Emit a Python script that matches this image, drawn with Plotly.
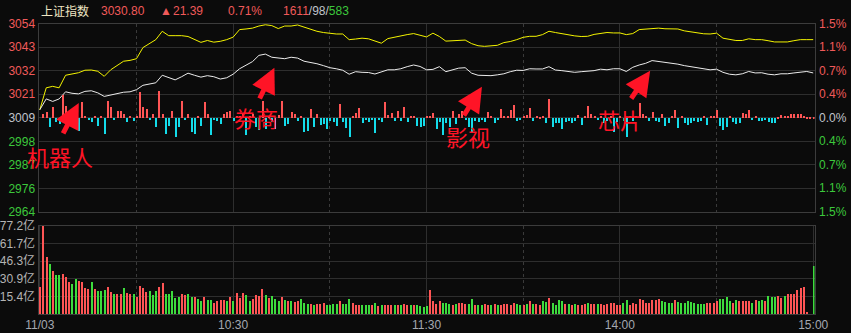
import plotly.graph_objects as go

# ---------------- data ----------------
index_name = "上证指数"
prev_close = 3009.41
half_range = 45.0
last_price = 3030.80
change = 21.39
change_pct = 0.71
advancers, unchanged, decliners = 1611, 98, 583

session_labels = ["11/03", "10:30", "11:30", "14:00", "15:00"]
session_label_minutes = [0, 60, 120, 180, 240]
half_hour_minutes = [30, 90, 150, 210]

# index price (white), one reading every 2 minutes from 9:30 to 15:00
price_line = [
    3013.2, 3018.4, 3017.2, 3018.4, 3021.8, 3021.1, 3020.8, 3022.0, 3022.3, 3021.3,
    3019.6, 3020.3, 3021.1, 3021.6, 3021.8, 3022.8, 3024.9, 3025.6, 3026.1, 3029.7,
    3028.5, 3027.5, 3029.0, 3030.7, 3029.7, 3028.8, 3029.5, 3029.0, 3027.9, 3028.5,
    3030.2, 3032.8, 3034.5, 3036.2, 3039.2, 3039.8, 3038.3, 3038.0, 3037.6, 3038.3,
    3037.9, 3036.4, 3035.9, 3035.2, 3034.3, 3033.3, 3032.8, 3032.1, 3030.2, 3031.4,
    3031.1, 3031.0, 3030.3, 3031.4, 3032.3, 3032.3, 3032.8, 3033.8, 3034.6, 3033.9,
    3032.3, 3032.5, 3033.8, 3031.4, 3032.3, 3033.1, 3033.3, 3030.7, 3029.7, 3029.5,
    3029.5, 3029.9, 3030.4, 3031.4, 3032.1, 3032.0, 3032.8, 3032.7, 3032.7, 3033.8,
    3032.2, 3031.9, 3031.4, 3031.1, 3031.4, 3031.7, 3031.9, 3032.6, 3032.3, 3032.8,
    3032.8, 3031.5, 3033.5, 3034.6, 3035.4, 3036.7, 3036.3, 3035.9, 3035.7, 3035.0,
    3034.3, 3033.8, 3033.3, 3032.9, 3032.3, 3032.6, 3031.1, 3030.2, 3029.9, 3030.4,
    3031.5, 3030.8, 3030.9, 3030.2, 3029.9, 3030.4, 3030.4, 3030.8, 3031.1, 3031.5,
    3030.8,
]

# unweighted average (yellow), same sampling
avg_line = [
    3013.2, 3023.7, 3024.4, 3023.7, 3029.7, 3030.4, 3030.9, 3032.1, 3032.2, 3031.6,
    3029.2, 3032.3, 3034.3, 3036.4, 3036.8, 3037.6, 3042.9, 3044.6, 3046.7, 3050.7,
    3048.6, 3048.6, 3048.6, 3048.2, 3046.7, 3045.4, 3046.3, 3045.5, 3045.9, 3046.7,
    3047.9, 3051.5, 3051.8, 3052.2, 3053.2, 3053.8, 3053.4, 3052.0, 3053.2, 3053.2,
    3053.7, 3052.7, 3051.9, 3050.7, 3050.1, 3049.6, 3049.4, 3049.4, 3046.7, 3047.0,
    3047.4, 3047.1, 3046.0, 3045.0, 3047.2, 3047.9, 3048.6, 3049.1, 3049.6, 3048.9,
    3048.0, 3049.8, 3048.2, 3046.0, 3046.2, 3046.5, 3046.5, 3044.8, 3043.8, 3043.5,
    3043.6, 3044.0, 3045.3, 3045.8, 3046.7, 3047.8, 3048.3, 3048.3, 3049.1, 3050.7,
    3050.1, 3049.5, 3049.0, 3048.5, 3048.2, 3048.3, 3049.2, 3049.6, 3050.1, 3049.9,
    3049.9, 3049.1, 3049.6, 3051.5, 3051.8, 3051.9, 3052.2, 3051.9, 3052.0, 3051.8,
    3050.9, 3050.4, 3049.9, 3049.5, 3049.4, 3049.8, 3047.4, 3046.7, 3046.3, 3046.3,
    3047.1, 3046.7, 3046.7, 3046.2, 3045.6, 3045.6, 3045.6, 3046.2, 3046.7, 3046.7,
    3046.7,
]

# buy/sell strength bars (red up / cyan down), one per minute
strength = [
    0, 4, 6, -9, 11, -4, -6, 23, 12, 2,
    -4, 4, -12.5, 16, 2, -2, -4, 2, -8, 2,
    -15.5, 17.5, 11, -2, 7.5, 7, 4, -4, 2, -2.5,
    2, 26, 11, 9, -2, 4, -9, 27.5, 4, -15.5,
    -7.5, 7.5, -19, -9, 17.5, -2, 4, -14, -15.5, 2,
    -7.5, 16, 4, -17, -2, -3, -5.5, 4, 6, 7,
    -3, 2, 2.5, 4, -17, 2, 4, -9, -12, 17.5,
    -10.5, 2.5, -4, -10.5, 3, 17.5, -7.5, -6, 6, 4,
    -2.5, 2.5, -13.5, -12.5, 9, -9, 4, -7, -6, -11,
    -2.5, -3.5, -8, 14.5, -3.5, -10, -19, 2, 5.5, 10,
    -4.5, -1.5, -3.5, -2, -15, -2, -3.5, 16, 3.5, 5,
    -2.5, 7, -2.5, 11, -3.5, 2, 2, -8, -9, -8,
    2, 2, 5, -11, -3.5, -17, -5, -9, 7, -6,
    4.5, 7, -2, -8.5, -15, -2.5, -3.5, -2, -3.5, 6,
    2, -4.5, -1.5, 9, 2, 2, 8, 13, -2.5, -2,
    2, 3.5, 10, -2.5, 2.5, 1.5, 2, -4.5, 19, -9,
    -5, -5, -10.5, -3.5, -2.5, -4.5, -3, 3, -7, 2,
    12, 4.5, 2, -1.5, 2, -5, -3, 2, -13.5, -4,
    2, -3, -18.5, 2, -3, 2, 15, 4, 2, -3,
    6.5, -3, -4, 4, -7.5, -5, 2, 8, -9.5, 2,
    -5, -6.5, -5, -2.5, -3.5, -2.5, 2, -7, 2, 2,
    8, -8, -12, -8.5, 2.5, -4, -6, -4.5, 5, 4.5,
    8, -2, 2, -2.5, -3, -2, -3.5, -4.5, -5, 1.5,
    3, 2, 2, 4.5, 4.5, 4.5, 4.5, 2, 1.5, 1.5,
    1,
]

# turnover per minute (亿)
volume = [
    23.7, 77.17, 49.7, 44.2, 37.4, 33.9, 33.9, 35.4, 32.5, 28.1,
    26.6, 31.0, 28.7, 28.1, 22.8, 21.6, 28.1, 21.6, 19.9, 20.5,
    20.8, 23.4, 19.3, 17.8, 17.5, 17.5, 22.8, 18.1, 17.5, 17.5,
    14.9, 24.3, 22.8, 19.3, 19.9, 17.0, 19.9, 23.7, 27.5, 17.8,
    17.8, 19.9, 14.0, 14.9, 17.8, 16.4, 17.8, 14.6, 15.2, 12.9,
    11.1, 14.9, 12.0, 12.0, 9.9, 11.1, 12.0, 12.6, 11.1, 14.9,
    11.1, 18.7, 14.0, 18.7, 17.0, 11.1, 12.9, 16.4, 15.8, 21.6,
    17.0, 14.0, 15.5, 12.9, 11.1, 14.9, 12.0, 11.1, 11.1, 10.5,
    11.1, 13.5, 9.9, 9.1, 9.1, 8.2, 9.1, 9.1, 9.9, 7.6,
    7.6, 9.1, 9.1, 11.1, 9.1, 9.1, 12.9, 9.9, 8.2, 8.2,
    8.2, 7.6, 7.6, 7.6, 9.4, 7.0, 7.6, 8.2, 7.6, 7.6,
    7.6, 7.6, 7.6, 9.1, 8.2, 8.2, 7.6, 7.6, 7.0, 6.1,
    7.0, 20.8, 11.1, 9.1, 11.1, 9.9, 9.9, 9.1, 8.2, 9.1,
    9.9, 9.9, 9.1, 9.1, 12.9, 8.2, 7.6, 7.6, 9.1, 8.2,
    7.6, 9.1, 8.2, 8.2, 9.1, 9.1, 8.2, 9.9, 9.1, 7.6,
    8.2, 9.1, 11.1, 9.1, 9.1, 8.2, 11.1, 10.5, 14.0, 9.9,
    7.6, 12.0, 11.1, 9.1, 9.1, 8.2, 9.1, 8.2, 8.2, 9.1,
    9.9, 9.1, 9.1, 9.1, 9.1, 8.2, 9.1, 9.9, 9.9, 8.2,
    8.2, 9.9, 12.0, 8.2, 9.9, 9.1, 12.9, 12.0, 9.9, 9.9,
    12.0, 12.0, 12.9, 11.1, 10.5, 9.9, 9.9, 12.0, 10.5, 9.9,
    9.9, 11.7, 10.5, 9.9, 9.1, 9.1, 9.1, 9.9, 9.9, 9.9,
    11.1, 12.9, 12.9, 14.9, 11.1, 9.9, 12.0, 11.1, 11.1, 11.1,
    11.1, 9.9, 12.0, 11.1, 12.0, 11.1, 15.8, 14.9, 14.9, 15.8,
    14.0, 15.8, 17.8, 17.8, 17.8, 20.8, 22.8, 23.7, 1.2, 0,
    42.1,
]

# minute direction: r = up, g = down
vol_dir = (
    "rrrgrggrrr" "ggrrrrgrgg" "grrgrrgrrg" "rrrrgggrrg" "ggggrrggrg"
    "grggrrrrgr" "grrrggrrrr" "grgggrgrgr" "rgggrgrrrg" "gggrgggrrr"
    "gggrgrgrrr" "grgrrgrggg" "grrrrgggrg" "rrrggrggrr" "grgrrrrrgg"
    "rgrgrrggrg" "gggrgrgrrr" "grrgrrrrrr" "rggrrrrrrr" "rrrggggrgg"
    "gggggggrrr" "rggggrgrrr" "rgrggrgggr" "rgrrrrrrrr" "g"
)

tags = ["机器人", "券商", "影视", "芯片"]
tag_minute = [6.3, 67.0, 132.9, 179.9]
tag_price = [2991.1, 3009.8, 3000.7, 3008.8]
arrow_tip_minute = [12.1, 72.8, 137.2, 189.4]
arrow_tip_price = [3016.4, 3033.3, 3024.2, 3031.9]
arrow_tail_minute = [7.0, 68.0, 131.3, 183.2]
arrow_tail_price = [3001.2, 3017.9, 3009.8, 3017.9]

# ---------------- style ----------------
W, H = 851, 333
BG = "#0b0b0b"
GRID = "#2e2e2e"
FRAME = "#3c3c3c"
RED = "#ff5555"
GREEN = "#3ddc3d"
CYAN = "#14dcea"
LBL_RED = "#f05a5a"
LBL_GREEN = "#3cc83c"
LBL_GRAY = "#c0c4cc"
TAG_RED = "#ff1426"
FONT = "Liberation Sans, Arial, Noto Sans CJK SC, sans-serif"

X0, X1 = 38.5 / W, 814.5 / W
MAIN_DOM = [1 - 212 / H, 1 - 23.5 / H]
VOL_DOM = [1 - 314 / H, 1 - 226 / H]
main_px = 212 - 23.5

line_minutes = [2 * i for i in range(len(price_line))]
bar_minutes = list(range(len(volume)))

price_ticks = [prev_close + k * half_range / 4 for k in range(-4, 5)]


def lbl_color(k):
    return LBL_RED if k > 0 else (LBL_GREEN if k < 0 else LBL_GRAY)


price_ticktext = [
    f"<span style='color:{lbl_color(k)}'>{prev_close + k * half_range / 4:.0f}</span>"
    for k in range(-4, 5)
]

vol_max = max(volume)
vol_ticks = [vol_max * k / 5 for k in range(1, 6)]
vol_ticktext = [f"{v:.1f}亿" for v in vol_ticks]

fig = go.Figure()

fig.add_trace(go.Bar(
    x=bar_minutes, y=strength, xaxis="x", yaxis="y3",
    marker=dict(color=[RED if s > 0 else CYAN for s in strength], line=dict(width=0)),
    width=0.34, hoverinfo="skip", showlegend=False,
))
fig.add_trace(go.Scatter(
    x=line_minutes, y=avg_line, xaxis="x", yaxis="y", mode="lines",
    line=dict(color="#f4f400", width=1), hoverinfo="skip", showlegend=False,
))
fig.add_trace(go.Scatter(
    x=line_minutes, y=price_line, xaxis="x", yaxis="y", mode="lines",
    line=dict(color="#ececec", width=1), hoverinfo="skip", showlegend=False,
))
fig.add_trace(go.Bar(
    x=bar_minutes, y=volume, xaxis="x2", yaxis="y2",
    marker=dict(color=[RED if d == "r" else GREEN for d in vol_dir], line=dict(width=0)),
    width=0.42, hoverinfo="skip", showlegend=False,
))

xrange = [-0.4, 240.4]
common_x = dict(
    range=xrange, domain=[X0, X1], showline=True, mirror=True, linecolor=FRAME, linewidth=1,
    zeroline=False, ticks="", showgrid=True, gridcolor=GRID, gridwidth=1, automargin=False,
    minor=dict(tickvals=half_hour_minutes, showgrid=True, gridcolor="#3a3a3a",
               griddash="dot", gridwidth=1, ticks=""),
)

fig.update_layout(
    width=W, height=H, margin=dict(l=0, r=0, t=0, b=0, pad=0), autosize=False,
    paper_bgcolor=BG, plot_bgcolor=BG, barmode="overlay", bargap=0,
    font=dict(family=FONT, size=12, color=LBL_GRAY),
    xaxis=dict(**common_x, anchor="y", tickvals=[60, 120, 180], showticklabels=False),
    yaxis=dict(domain=MAIN_DOM, range=[prev_close - half_range, prev_close + half_range],
               tickvals=price_ticks, ticktext=price_ticktext, showgrid=True, gridcolor=GRID,
               showline=True, mirror=True, linecolor=FRAME, zeroline=False, ticks="",
               tickfont=dict(size=12, family=FONT), anchor="x", automargin=False,
               ticklabelstandoff=0),
    yaxis3=dict(overlaying="y", range=[-main_px / 2, main_px / 2], visible=False,
                automargin=False),
    xaxis2=dict(**common_x, anchor="y2", matches="x", tickvals=session_label_minutes,
                ticktext=session_labels, tickfont=dict(size=12, color="#a4a8b0", family=FONT)),
    yaxis2=dict(domain=VOL_DOM, range=[0, vol_max], tickvals=vol_ticks, ticktext=vol_ticktext,
                showgrid=True, gridcolor=GRID, showline=True, mirror=True, linecolor=FRAME,
                zeroline=False, ticks="", anchor="x2", automargin=False, ticklabelstandoff=0,
                tickfont=dict(size=12, color="#b4b4b4", family=FONT)),
)

annotations = []
# right-hand percentage labels
for k in range(-4, 5):
    pct = abs(k * half_range / 4 / prev_close * 100)
    annotations.append(dict(
        xref="paper", yref="y", x=817 / W, y=prev_close + k * half_range / 4,
        text=f"{pct:.1f}%", showarrow=False, xanchor="left", yanchor="middle",
        font=dict(size=12, color=lbl_color(k), family=FONT),
    ))

# header
hy = 1 - 11 / H
header = [
    (39, index_name, "#f0e6c4"),
    (99, f"{last_price:.2f}", LBL_RED),
    (158, "▲", LBL_RED),
    (171, f"{change:.2f}", LBL_RED),
    (226, f"{change_pct:.2f}%", LBL_RED),
    (281, f"<span style='color:{LBL_RED}'>{advancers}</span>/"
          f"<span style='color:{LBL_GRAY}'>{unchanged}</span>/"
          f"<span style='color:{LBL_GREEN}'>{decliners}</span>", LBL_GRAY),
]
for hx, txt, col in header:
    annotations.append(dict(
        xref="paper", yref="paper", x=hx / W, y=hy, text=txt, showarrow=False,
        xanchor="left", yanchor="middle", font=dict(size=12, color=col, family=FONT),
    ))

# red arrows and tags
for i, tag in enumerate(tags):
    annotations.append(dict(
        xref="x", yref="y", axref="x", ayref="y",
        x=arrow_tip_minute[i], y=arrow_tip_price[i],
        ax=arrow_tail_minute[i], ay=arrow_tail_price[i],
        text="", showarrow=True, arrowhead=2, arrowsize=1.0, arrowwidth=5,
        arrowcolor=TAG_RED, standoff=0,
    ))
    annotations.append(dict(
        xref="x", yref="y", x=tag_minute[i], y=tag_price[i], text=tag, showarrow=False,
        xanchor="center", yanchor="middle",
        font=dict(size=22, color=TAG_RED, family="Noto Sans CJK SC"),
    ))

fig.update_layout(annotations=annotations)

fig.write_html("out.html")
